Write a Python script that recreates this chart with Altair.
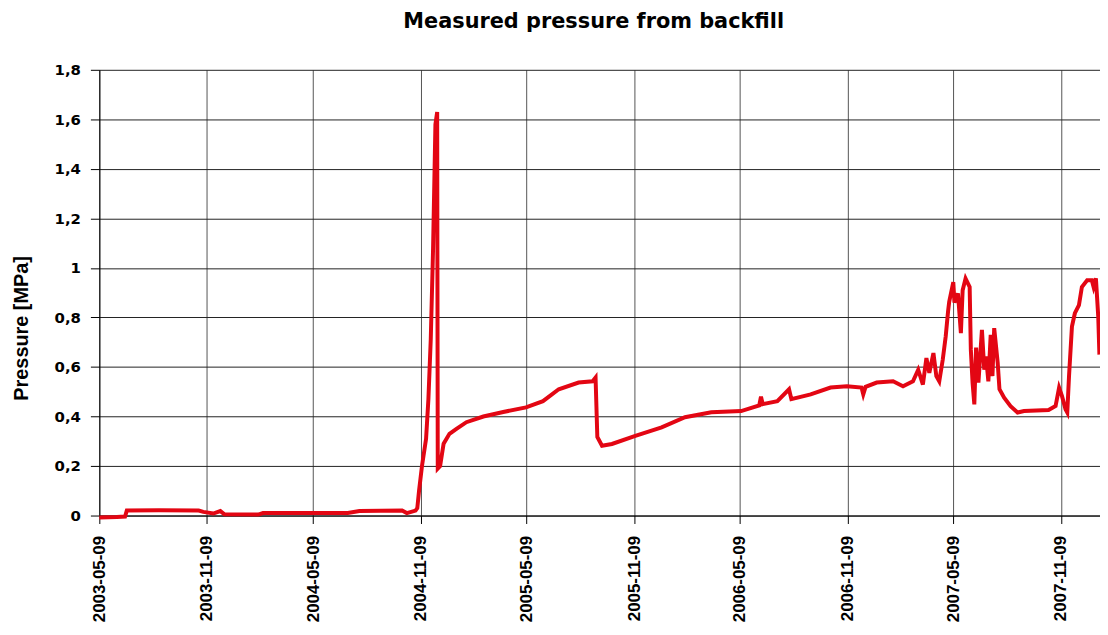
import altair as alt
import pandas as pd

dates = [
    "2003-05-09", "2003-06-08", "2003-06-22", "2003-06-25", "2003-08-19", "2003-10-26",
    "2003-11-03", "2003-11-20", "2003-12-02", "2003-12-09", "2004-02-05", "2004-02-13",
    "2004-07-07", "2004-07-27", "2004-10-08", "2004-10-16", "2004-10-31", "2004-11-03",
    "2004-11-06", "2004-11-11", "2004-11-18", "2004-11-22", "2004-11-26", "2004-11-30",
    "2004-12-04", "2004-12-07", "2004-12-08", "2004-12-12", "2004-12-18", "2004-12-28",
    "2005-01-09", "2005-01-26", "2005-02-24", "2005-03-30", "2005-05-08", "2005-06-06",
    "2005-07-03", "2005-08-06", "2005-08-30", "2005-09-04", "2005-09-07", "2005-09-15",
    "2005-10-02", "2005-11-11", "2005-12-26", "2006-02-04", "2006-03-21", "2006-05-11",
    "2006-06-11", "2006-06-14", "2006-06-17", "2006-07-12", "2006-08-01", "2006-08-05",
    "2006-09-07", "2006-10-11", "2006-11-08", "2006-12-03", "2006-12-06", "2006-12-10",
    "2006-12-29", "2007-01-26", "2007-02-12", "2007-03-01", "2007-03-10", "2007-03-18",
    "2007-03-24", "2007-03-29", "2007-04-05", "2007-04-10", "2007-04-15", "2007-04-21",
    "2007-04-26", "2007-04-30", "2007-05-02", "2007-05-09", "2007-05-11", "2007-05-17",
    "2007-05-22", "2007-05-25", "2007-05-30", "2007-06-06", "2007-06-08", "2007-06-11",
    "2007-06-14", "2007-06-17", "2007-06-21", "2007-06-27", "2007-07-01", "2007-07-04",
    "2007-07-08", "2007-07-12", "2007-07-15", "2007-07-18", "2007-07-24", "2007-07-27",
    "2007-08-04", "2007-08-15", "2007-08-27", "2007-09-07", "2007-10-19", "2007-10-31",
    "2007-11-06", "2007-11-11", "2007-11-17", "2007-11-20", "2007-11-23", "2007-11-28",
    "2007-12-03", "2007-12-10", "2007-12-15", "2007-12-24", "2008-01-01", "2008-01-04",
    "2008-01-08", "2008-01-12", "2008-01-14",
]

pressure = [
    -0.008, -0.006, -0.004, 0.02, 0.021, 0.02,
    0.015, 0.008, 0.018, 0.005, 0.004, 0.01,
    0.01, 0.018, 0.02, 0.01, 0.02, 0.03,
    0.1, 0.2, 0.31, 0.47, 0.71, 1.08,
    1.58, 1.63, 0.19, 0.2, 0.29, 0.33,
    0.35, 0.377, 0.40, 0.418, 0.437, 0.462,
    0.51, 0.537, 0.542, 0.557, 0.317, 0.282,
    0.289, 0.322, 0.356, 0.397, 0.417, 0.422,
    0.445, 0.48, 0.45, 0.462, 0.51, 0.47,
    0.489, 0.517, 0.522, 0.517, 0.489, 0.52,
    0.537, 0.542, 0.522, 0.542, 0.589, 0.529,
    0.636, 0.576, 0.656, 0.563, 0.542, 0.63,
    0.723, 0.823, 0.863, 0.943, 0.86, 0.897,
    0.737, 0.91, 0.957, 0.923, 0.67, 0.536,
    0.449, 0.678, 0.537, 0.75, 0.589, 0.643,
    0.542, 0.73, 0.563, 0.757, 0.616, 0.51,
    0.476, 0.442, 0.416, 0.422, 0.426, 0.442,
    0.516, 0.482, 0.429, 0.416, 0.563, 0.763,
    0.817, 0.85, 0.923, 0.95, 0.95, 0.923,
    0.958, 0.803, 0.65,
]

x_ticks = [(2003, 5), (2003, 11), (2004, 5), (2004, 11), (2005, 5), (2005, 11),
           (2006, 5), (2006, 11), (2007, 5), (2007, 11)]
y_ticks = [0, 0.2, 0.4, 0.6, 0.8, 1.0, 1.2, 1.4, 1.6, 1.8]
chart_title = ["Measured pressure from backfill"]

df = pd.DataFrame({"date": dates, "pressure": pressure})
title_df = pd.DataFrame({"t": chart_title})

line = (
    alt.Chart(df)
    .mark_line(color="#E30613", strokeWidth=4)
    .encode(
        x=alt.X(
            "date:T",
            scale=alt.Scale(
                type="utc",
                domain=[alt.DateTime(year=2003, month=5, date=9, utc=True),
                        alt.DateTime(year=2008, month=1, date=15, utc=True)],
                nice=False,
            ),
            axis=alt.Axis(
                values=[alt.DateTime(year=y, month=m, date=9, utc=True) for y, m in x_ticks],
                format="%Y-%m-%d",
                labelAngle=270,
                labelFont="Liberation Sans",
                labelFontWeight="bold",
                labelFontSize=17,
                labelColor="#000000",
                labelPadding=12,
                labelOverlap=False,
                labelFlush=False,
                tickSize=8,
                tickColor="#000000",
                domainColor="#000000",
                grid=True,
                gridColor="#555555",
                title=None,
            ),
        ),
        y=alt.Y(
            "pressure:Q",
            scale=alt.Scale(domain=[0, 1.8], nice=False, zero=False),
            axis=alt.Axis(
                values=y_ticks,
                labelExpr="replace(format(datum.value, '.1~f'), '.', ',')",
                labelFont="DejaVu Sans",
                labelFontWeight="bold",
                labelFontSize=15,
                labelColor="#000000",
                labelPadding=10,
                tickSize=9,
                tickColor="#000000",
                domainColor="#000000",
                grid=True,
                gridColor="#222222",
                title="Pressure [MPa]",
                titleFont="Liberation Sans",
                titleFontSize=20,
                titleFontWeight="bold",
                titleColor="#000000",
                titleAngle=270,
                titleAlign="center",
                titleBaseline="middle",
                titleX=-78,
                titleY=260,
            ),
        ),
    )
)

title = (
    alt.Chart(title_df)
    .mark_text(
        font="DejaVu Sans",
        fontSize=21,
        fontWeight="bold",
        color="#000000",
        align="center",
        baseline="alphabetic",
    )
    .encode(text="t:N", x=alt.value(498), y=alt.value(-42))
)

chart = (
    alt.layer(line, title)
    .properties(
        width=1008,
        height=449,
        autosize=alt.AutoSizeParams(type="none"),
        padding={"left": 92, "top": 60, "right": 0, "bottom": 110},
        background="white",
    )
    .configure_view(strokeWidth=0)
)

chart.save("out.html", embed_options={"renderer": "svg", "actions": False})
